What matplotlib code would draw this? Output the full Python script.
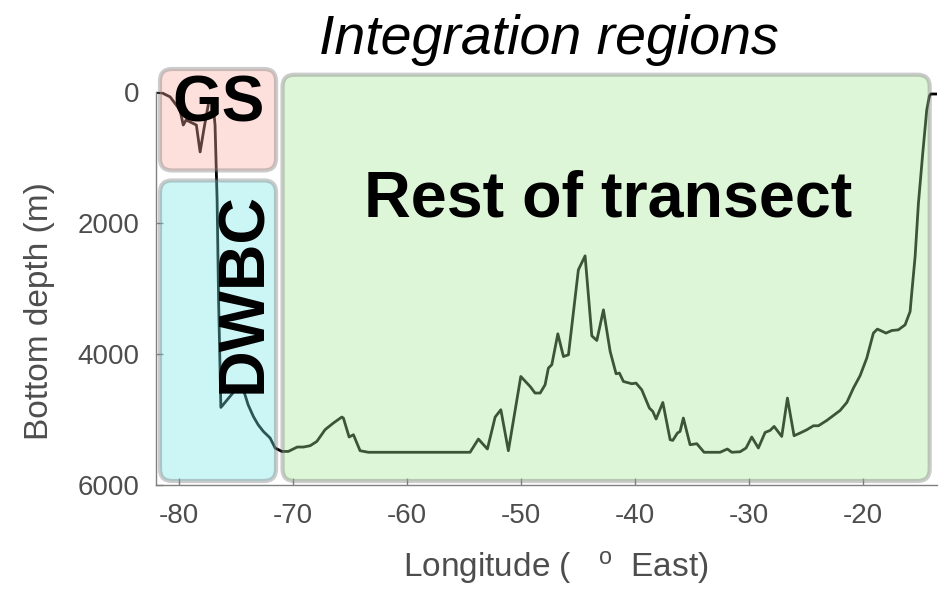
import matplotlib
matplotlib.use("Agg")
import matplotlib.pyplot as plt
from matplotlib.patches import FancyBboxPatch
from matplotlib.transforms import IdentityTransform

plt.rcParams['font.family'] = ['Liberation Sans', 'DejaVu Sans']
plt.rcParams['mathtext.fontset'] = 'custom'
plt.rcParams['mathtext.rm'] = 'Liberation Sans'
plt.rcParams['mathtext.it'] = 'Liberation Sans:italic'

# ---- data: bottom depth along the transect ----
lon = [-82.0, -81.46, -80.76, -79.89, -79.61, -79.36, -78.46, -78.13, -77.78, -77.34,
       -76.99, -76.82, -76.64, -76.51, -76.31, -74.97, -74.33, -73.92, -73.46, -73.04,
       -72.58, -71.99, -71.55, -70.96, -70.39, -69.61, -69.07, -68.48, -67.89, -67.17,
       -66.44, -65.70, -65.56, -65.06, -64.68, -64.10, -63.37, -54.45, -53.72, -52.93,
       -52.25, -51.75, -51.09, -50.0, -49.18, -48.75, -48.30, -47.87, -47.58, -47.28,
       -46.75, -46.26, -45.82, -44.95, -44.36, -43.77, -43.33, -42.75, -42.16, -41.64,
       -41.35, -41.0, -40.26, -39.89, -39.39, -38.72, -38.42, -38.13, -37.54, -36.90,
       -36.67, -36.26, -36.03, -35.74, -35.15, -34.56, -33.92, -32.52, -31.88, -31.49,
       -30.76, -30.24, -29.74, -29.16, -28.57, -28.13, -27.78, -27.11, -26.61, -26.03,
       -25.50, -24.91, -24.33, -23.89, -23.16, -21.99, -21.40, -20.82, -20.24, -19.65,
       -19.07, -18.72, -17.96, -17.46, -16.88, -16.29, -15.85, -15.72, -15.41, -15.12,
       -14.74, -14.39, -14.16, -14.04, -13.57]
depth = [0, 10, 70, 272, 500, 423, 500, 911, 545, 118,
         194, 500, 1646, 3171, 4815, 4534, 4545, 4774, 4953, 5079,
         5182, 5282, 5435, 5487, 5487, 5420, 5420, 5400, 5334, 5155,
         5053, 4962, 4977, 5267, 5232, 5476, 5500, 5500, 5298, 5450,
         4962, 4850, 5476, 4342, 4495, 4595, 4595, 4469, 4214, 4163,
         3690, 4037, 4011, 2713, 2499, 3721, 3792, 3324, 3960, 4301,
         4290, 4418, 4453, 4443, 4545, 4824, 4876, 4992, 4739, 5308,
         5319, 5206, 5182, 4977, 5385, 5369, 5500, 5500, 5450, 5500,
         5492, 5435, 5267, 5435, 5197, 5166, 5105, 5258, 4672, 5247,
         5206, 5156, 5095, 5095, 5014, 4861, 4739, 4519, 4331, 4061,
         3679, 3618, 3679, 3640, 3629, 3553, 3350, 3095, 2510, 1695,
         931, 270, 56, 26, 26]

# ---- integration regions (lon0, lon1, depth0, depth1) ----
region_names = ['GS', 'DWBC', 'Rest of transect']
region_lon0 = [-81.65, -81.65, -70.90]
region_lon1 = [-71.47, -71.47, -14.13]
region_dep0 = [-356, 1347, -269]
region_dep1 = [1194, 5939, 5939]
region_colors = ['#faaba0', '#75e6e8', '#a3e996']

xticks = [-80, -70, -60, -50, -40, -30, -20]
yticks = [0, 2000, 4000, 6000]

W, H = 952, 590
fig = plt.figure(figsize=(W / 100, H / 100), dpi=100)
ax = fig.add_axes([156 / W, 1 - 485 / H, (937 - 156) / W, (485 - 92.3) / H])

ax.plot(lon, depth, color='black', lw=2.0, zorder=2, solid_joinstyle='round')
ax.set_xlim(-82, -13.49)
ax.set_ylim(6000, 0)
ax.set_xticks(xticks)
ax.set_yticks(yticks)
ax.set_xticklabels([str(t) for t in xticks])
ax.set_yticklabels([str(t) for t in yticks])

grey_txt = '#4d4d4d'
for s in ['top', 'right']:
    ax.spines[s].set_visible(False)
for s in ['left', 'bottom']:
    ax.spines[s].set_color('#808080')
    ax.spines[s].set_linewidth(1.0)
ax.tick_params(direction='in', length=5, width=1, colors='#808080',
               labelcolor=grey_txt, labelsize=20)
ax.tick_params(axis='x', pad=13)
ax.tick_params(axis='y', pad=12)
ax.set_facecolor('none')

ax.set_xlabel(r'Longitude (   ${}^{\mathrm{o}}$  East)', fontsize=24, color=grey_txt)
ax.set_ylabel('Bottom depth (m)', fontsize=24, color=grey_txt)
ax.xaxis.set_label_coords((556 - 156) / 781, (485 - 568) / 392.7)
ax.yaxis.set_label_coords((40 - 156) / 781, (485 - 311) / 392.7)
ax.xaxis.label.set_va('center')
ax.yaxis.label.set_va('center')

fig.canvas.draw()
# draw region boxes in display space so corners stay round
for name, x0, x1, d0, d1, c in zip(region_names, region_lon0, region_lon1,
                                   region_dep0, region_dep1, region_colors):
    (px0, py0) = ax.transData.transform((x0, d1))
    (px1, py1) = ax.transData.transform((x1, d0))
    box = FancyBboxPatch((px0, py0), px1 - px0, py1 - py0,
                         boxstyle='round,pad=0,rounding_size=12',
                         transform=IdentityTransform(), facecolor=c,
                         edgecolor='#757575', linewidth=3.0, alpha=0.37,
                         zorder=3, clip_on=False)
    ax.add_artist(box)

ax.text(-76.54, 194, 'GS', fontsize=46, fontweight='bold', ha='center',
        va='center', zorder=5)
ax.text(-74.27, 3064, 'DWBC', fontsize=46.5, fontweight='bold', ha='center',
        va='center', rotation=90, zorder=5)
ax.text(-42.33, 1644, 'Rest of transect', fontsize=46.5, fontweight='bold',
        ha='center', va='center', zorder=5)

fig.text(549 / W, 1 - 40 / H, 'Integration regions', fontsize=40,
         style='italic', ha='center', va='center')

fig.savefig('out.png', dpi=100)
